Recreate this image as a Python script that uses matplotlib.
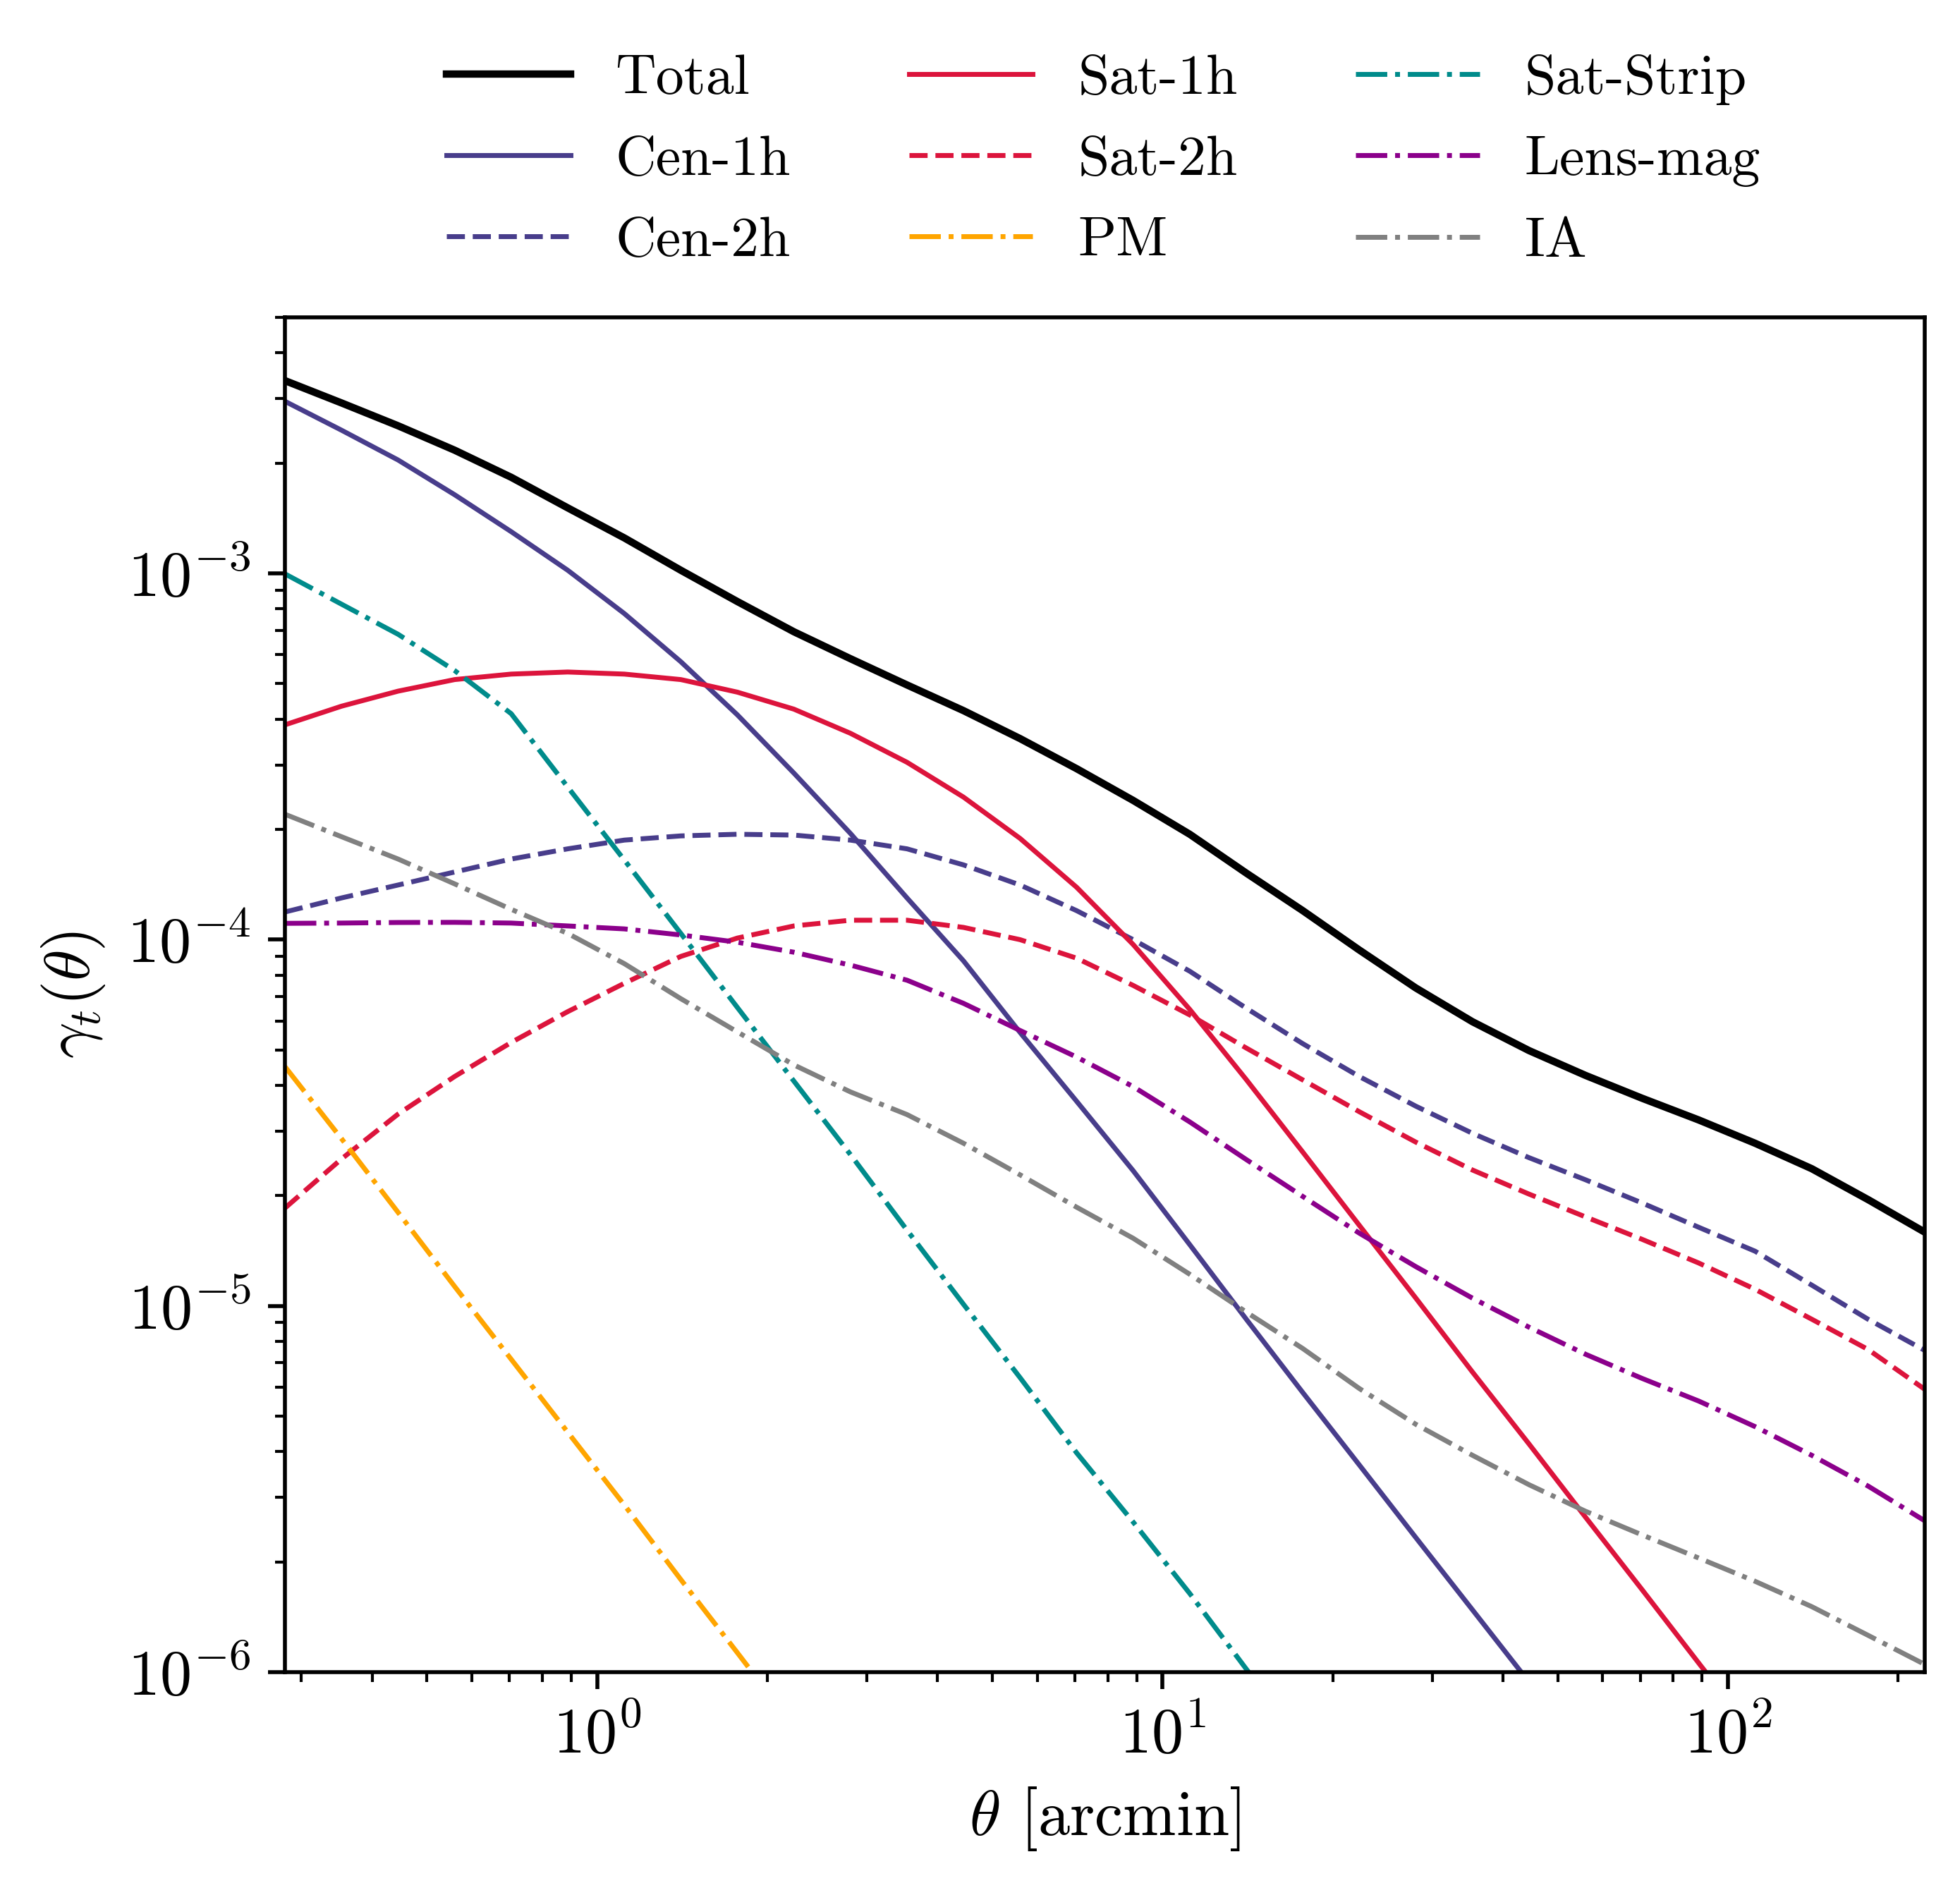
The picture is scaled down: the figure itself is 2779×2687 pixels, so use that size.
import matplotlib
matplotlib.use('Agg')
import matplotlib.pyplot as plt

# Computer Modern look, like a LaTeX figure
plt.rcParams['font.family'] = 'serif'
plt.rcParams['font.serif'] = ['cmr10']
plt.rcParams['mathtext.fontset'] = 'cm'
plt.rcParams['axes.formatter.use_mathtext'] = True
plt.rcParams['axes.unicode_minus'] = False

# angular bin centres [arcmin]
theta = [0.2805, 0.3532, 0.4446, 0.5597, 0.7047, 0.8871, 1.117, 1.406, 1.770, 2.228,
         2.805, 3.532, 4.446, 5.597, 7.047, 8.871, 11.17, 14.06, 17.70, 22.28,
         28.05, 35.32, 44.46, 55.97, 70.47, 88.71, 111.7, 140.6, 177.0, 222.8]

total = [3.36e-3, 2.92e-3, 2.53e-3, 2.17e-3, 1.83e-3, 1.51e-3, 1.25e-3, 1.02e-3, 8.38e-4, 6.93e-4,
         5.85e-4, 4.96e-4, 4.22e-4, 3.54e-4, 2.93e-4, 2.40e-4, 1.94e-4, 1.52e-4, 1.20e-4, 9.37e-5,
         7.38e-5, 5.97e-5, 4.98e-5, 4.26e-5, 3.69e-5, 3.22e-5, 2.78e-5, 2.37e-5, 1.95e-5, 1.59e-5]

cen_1h = [2.95e-3, 2.46e-3, 2.04e-3, 1.64e-3, 1.30e-3, 1.02e-3, 7.77e-4, 5.74e-4, 4.11e-4, 2.85e-4,
          1.95e-4, 1.30e-4, 8.75e-5, 5.58e-5, 3.62e-5, 2.34e-5, 1.47e-5, 9.2e-6, 5.8e-6, 3.68e-6,
          2.33e-6, 1.48e-6, 9.4e-7]

cen_2h = [1.19e-4, 1.30e-4, 1.41e-4, 1.53e-4, 1.66e-4, 1.77e-4, 1.87e-4, 1.92e-4, 1.94e-4, 1.93e-4,
          1.87e-4, 1.77e-4, 1.60e-4, 1.41e-4, 1.20e-4, 1.00e-4, 8.2e-5, 6.5e-5, 5.2e-5, 4.23e-5,
          3.51e-5, 2.96e-5, 2.54e-5, 2.21e-5, 1.91e-5, 1.64e-5, 1.41e-5, 1.14e-5, 9.19e-6, 7.56e-6]

sat_1h = [3.86e-4, 4.34e-4, 4.77e-4, 5.13e-4, 5.31e-4, 5.38e-4, 5.31e-4, 5.13e-4, 4.74e-4, 4.26e-4,
          3.66e-4, 3.05e-4, 2.45e-4, 1.89e-4, 1.39e-4, 9.7e-5, 6.45e-5, 4.15e-5, 2.63e-5, 1.66e-5,
          1.05e-5, 6.6e-6, 4.2e-6, 2.65e-6, 1.68e-6, 1.06e-6, 6.7e-7]

sat_2h = [1.85e-5, 2.52e-5, 3.34e-5, 4.23e-5, 5.24e-5, 6.36e-5, 7.6e-5, 9.0e-5, 1.01e-4, 1.09e-4,
          1.13e-4, 1.13e-4, 1.08e-4, 1.00e-4, 8.9e-5, 7.5e-5, 6.23e-5, 5.06e-5, 4.14e-5, 3.39e-5,
          2.80e-5, 2.35e-5, 2.02e-5, 1.75e-5, 1.52e-5, 1.31e-5, 1.11e-5, 9.2e-6, 7.6e-6, 5.92e-6]

pm = [4.50e-5, 2.86e-5, 1.80e-5, 1.13e-5, 7.15e-6, 4.52e-6, 2.86e-6, 1.79e-6, 1.13e-6, 7.1e-7]

sat_strip = [9.97e-4, 8.24e-4, 6.82e-4, 5.43e-4, 4.14e-4, 2.61e-4, 1.65e-4, 1.04e-4, 6.53e-5, 4.11e-5,
             2.59e-5, 1.61e-5, 1.01e-5, 6.37e-6, 3.97e-6, 2.57e-6, 1.64e-6, 1.02e-6, 6.4e-7]

lens_mag = [1.108e-4, 1.11e-4, 1.114e-4, 1.115e-4, 1.11e-4, 1.09e-4, 1.07e-4, 1.03e-4, 9.84e-5, 9.24e-5,
            8.52e-5, 7.75e-5, 6.7e-5, 5.65e-5, 4.78e-5, 3.97e-5, 3.18e-5, 2.51e-5, 1.99e-5, 1.58e-5,
            1.28e-5, 1.05e-5, 8.75e-6, 7.38e-6, 6.34e-6, 5.5e-6, 4.68e-6, 3.91e-6, 3.22e-6, 2.59e-6]

ia = [2.20e-4, 1.91e-4, 1.66e-4, 1.42e-4, 1.21e-4, 1.04e-4, 8.6e-5, 6.9e-5, 5.6e-5, 4.55e-5,
      3.84e-5, 3.33e-5, 2.78e-5, 2.28e-5, 1.86e-5, 1.53e-5, 1.22e-5, 9.62e-6, 7.65e-6, 5.95e-6,
      4.75e-6, 3.91e-6, 3.25e-6, 2.75e-6, 2.37e-6, 2.05e-6, 1.77e-6, 1.51e-6, 1.26e-6, 1.05e-6]

# (label, values, colour, linestyle, linewidth) in legend order
terms = [
    ('Total', total, 'black', '-', 1.5),
    ('Cen-1h', cen_1h, 'darkslateblue', '-', 1.0),
    ('Cen-2h', cen_2h, 'darkslateblue', '--', 1.0),
    ('Sat-1h', sat_1h, 'crimson', '-', 1.0),
    ('Sat-2h', sat_2h, 'crimson', '--', 1.0),
    ('PM', pm, 'orange', '-.', 1.0),
    ('Sat-Strip', sat_strip, 'darkcyan', '-.', 1.0),
    ('Lens-mag', lens_mag, 'darkmagenta', '-.', 1.0),
    ('IA', ia, 'gray', '-.', 1.0),
]

fig = plt.figure(figsize=(2779 / 500, 2687 / 500), dpi=500)
ax = fig.add_axes([0.1454, 0.1176, 0.982 - 0.1454, 0.8325 - 0.1176])

for label, vals, col, ls, lw in terms:
    ax.plot(theta[:len(vals)], vals, color=col, ls=ls, lw=lw, label=label)

ax.set_xscale('log')
ax.set_yscale('log')
ax.set_xlim(theta[0], theta[-1])
ax.set_ylim(1e-6, 5e-3)
ax.tick_params(which='both', direction='out', labelsize=13)
ax.set_xlabel(r'$\theta$ [arcmin]', fontsize=13)
ax.set_ylabel(r'$\gamma_t(\theta)$', fontsize=13)

fig.legend(loc='center', bbox_to_anchor=(0.563, 0.915), ncol=3, frameon=False,
           fontsize=11.5, handlelength=2.2, columnspacing=2.1, labelspacing=0.54)

fig.savefig('out.png', dpi=500)
